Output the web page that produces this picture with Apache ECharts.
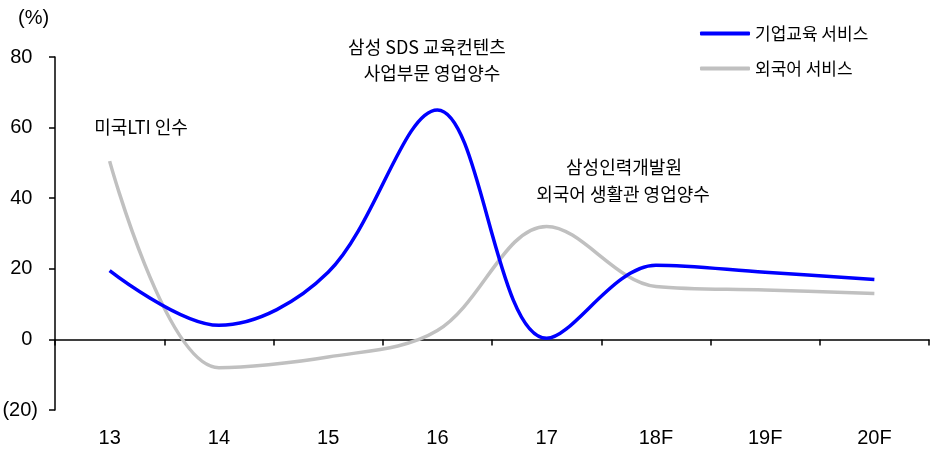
<!DOCTYPE html>
<html><head><meta charset="utf-8">
<script src="https://cdn.jsdelivr.net/npm/echarts@6/dist/echarts.min.js"></script>
<style>html,body{margin:0;padding:0;background:#fff}#c{width:935px;height:449px}</style>
</head><body><div id="c"></div>
<script>
const categories = ['13','14','15','16','17','18F','19F','20F'];
const corporateEdu = [19.5, 4, 19, 65, 0.3, 21, 19, 17];
const languageSvc = [50.5, -8, -5, 2.5, 32, 15, 14, 13];
const seriesNames = ['기업교육 서비스', '외국어 서비스'];
const yTicks = { min: -20, max: 80, interval: 20 };

const latin = '"Liberation Sans Narrow", "Arial Narrow", "Liberation Sans", sans-serif';
const kr = '"Liberation Sans Narrow", "Noto Sans CJK KR", sans-serif';
const chart = echarts.init(document.getElementById('c'));
chart.setOption({
  animation: false,
  grid: { left: 55, right: 6, top: 57, bottom: 39, containLabel: false, outerBoundsMode: 'none' },
  legend: {
    orient: 'vertical', left: 695, top: 20, itemWidth: 50, itemHeight: 4, itemGap: 18,
    icon: 'roundRect',
    textStyle: { fontFamily: kr, fontSize: 17, color: '#000', padding: [0,0,0,0] },
    data: seriesNames
  },
  xAxis: [{
    type: 'category', data: categories, boundaryGap: true,
    axisLine: { show: false, onZero: false },
    axisTick: { show: false },
    axisLabel: { margin: 18, fontFamily: latin, fontSize: 20, color: '#000' },
    splitLine: { show: false }
  }, {
    type: 'category', data: categories, boundaryGap: true, position: 'bottom',
    axisLine: { onZero: true, lineStyle: { color: '#000', width: 1.5 } },
    axisTick: { show: true, length: 6, inside: false, lineStyle: { color: '#000', width: 1.5 } },
    axisLabel: { show: false },
    splitLine: { show: false }
  }],
  yAxis: {
    type: 'value', min: yTicks.min, max: yTicks.max, interval: yTicks.interval,
    axisLine: { show: true, lineStyle: { color: '#000', width: 1.5 } },
    axisTick: { show: true, length: 6, lineStyle: { color: '#000', width: 1.5 } },
    axisLabel: { margin: 17, fontFamily: latin, fontSize: 20, color: '#000',
      formatter: v => v < 0 ? '(' + Math.abs(v) + ')' : String(v) + ' ' },
    splitLine: { show: false }
  },
  graphic: [
    { type: 'text', left: 18, top: 8, style: { text: '(%)', font: '20px ' + latin, fill: '#000' } },
    { type: 'text', x: 141, y: 127, style: { text: '미국LTI 인수', font: '18px ' + kr, fill: '#000', textAlign: 'center', textVerticalAlign: 'middle' } },
    { type: 'text', x: 427, y: 47, style: { text: '삼성 SDS 교육컨텐츠', font: '18px ' + kr, fill: '#000', textAlign: 'center', textVerticalAlign: 'middle' } },
    { type: 'text', x: 432, y: 73, style: { text: '사업부문 영업양수', font: '18px ' + kr, fill: '#000', textAlign: 'center', textVerticalAlign: 'middle' } },
    { type: 'text', x: 624, y: 167, style: { text: '삼성인력개발원', font: '18px ' + kr, fill: '#000', textAlign: 'center', textVerticalAlign: 'middle' } },
    { type: 'text', x: 623, y: 194, style: { text: '외국어 생활관 영업양수', font: '18px ' + kr, fill: '#000', textAlign: 'center', textVerticalAlign: 'middle' } }
  ],
  series: [
    { name: seriesNames[0], type: 'line', data: corporateEdu, smooth: 0.35, symbol: 'none',
      itemStyle: { color: '#0000FF' }, lineStyle: { color: '#0000FF', width: 3.5 }, z: 3 },
    { name: seriesNames[1], type: 'line', data: languageSvc, smooth: 0.35, symbol: 'none',
      itemStyle: { color: '#C0C0C0' }, lineStyle: { color: '#C0C0C0', width: 3.5 }, z: 2 }
  ]
});
</script></body></html>
